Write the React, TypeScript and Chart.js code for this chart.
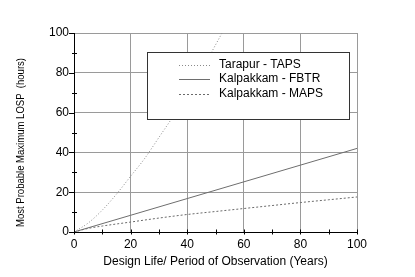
import { useEffect, useRef } from 'react';
import { Chart, registerables } from 'chart.js';

Chart.register(...registerables);

const FONT = '"Liberation Sans", Arial, Helvetica, sans-serif';

// Data
const tapsX = [0, 5, 10, 15, 20, 25, 30, 35, 40, 45, 50, 55];
const tapsY = [0, 4.5, 11, 19, 28, 37, 47.5, 58, 69, 81, 94, 107];
const fbtrX = [0, 20, 40, 60, 80, 100];
const fbtrY = [0, 8.4, 16.8, 25.2, 33.6, 42];
const mapsX = [0, 5, 10, 20, 30, 40, 50, 60, 70, 80, 90, 100];
const mapsY = [0, 1.8, 3.0, 5.0, 7.0, 8.8, 10.3, 11.8, 13.3, 14.8, 16.2, 17.6];

const seriesNames = ['Tarapur - TAPS', 'Kalpakkam - FBTR', 'Kalpakkam - MAPS'];
const xTitle = 'Design Life/ Period of Observation (Years)';
const yTitle = 'Most Probable Maximum LOSP  (hours)';

const toPts = (xs: number[], ys: number[]) => xs.map((x, i) => ({ x, y: ys[i] }));

const overlayPlugin = {
  id: 'customLegendAndTitles',
  afterDraw(chart: any) {
    const ctx = chart.ctx as CanvasRenderingContext2D;
    const ca = chart.chartArea;
    const xs = chart.scales.x;
    const ys = chart.scales.y;
    ctx.save();
    // Tick marks (crossing style)
    ctx.strokeStyle = '#000000';
    ctx.lineWidth = 1;
    ctx.setLineDash([]);
    xs.ticks.forEach((t: any) => {
      const px = Math.round(xs.getPixelForValue(t.value)) + 0.5;
      ctx.beginPath();
      ctx.moveTo(px, ca.bottom - 2.5);
      ctx.lineTo(px, ca.bottom + 2.5);
      ctx.stroke();
    });
    ys.ticks.forEach((t: any) => {
      const py = Math.round(ys.getPixelForValue(t.value)) + 0.5;
      const major = t.value % 20 === 0;
      ctx.beginPath();
      if (major) {
        ctx.moveTo(ca.left - 5, py);
        ctx.lineTo(ca.left, py);
      } else {
        ctx.moveTo(ca.left - 2, py);
        ctx.lineTo(ca.left + 3, py);
      }
      ctx.stroke();
    });
    // Legend box
    const bx = 147, by = 52, bw = 202, bh = 67;
    ctx.fillStyle = '#ffffff';
    ctx.fillRect(bx, by, bw, bh);
    ctx.strokeStyle = '#333333';
    ctx.lineWidth = 1;
    ctx.strokeRect(bx + 0.5, by + 0.5, bw, bh);
    const rows = [64.5, 79, 93.5];
    chart.data.datasets.forEach((ds: any, i: number) => {
      const y = Math.round(rows[i]) + 0.5;
      ctx.beginPath();
      ctx.strokeStyle = ds.borderColor;
      ctx.lineWidth = ds.borderWidth;
      ctx.setLineDash(ds.borderDash || []);
      ctx.moveTo(179, y);
      ctx.lineTo(210, y);
      ctx.stroke();
      ctx.setLineDash([]);
      ctx.fillStyle = '#000000';
      ctx.font = `12px ${FONT}`;
      ctx.textAlign = 'left';
      ctx.textBaseline = 'middle';
      ctx.fillText(ds.label, 219, rows[i]);
    });
    // Axis titles
    ctx.fillStyle = '#000000';
    ctx.font = `12px ${FONT}`;
    ctx.textAlign = 'center';
    ctx.textBaseline = 'middle';
    ctx.fillText(xTitle, (ca.left + ca.right) / 2, 262);
    ctx.font = `11.5px ${FONT}`;
    const w = ctx.measureText(yTitle).width;
    ctx.translate(21, 142.5);
    ctx.rotate(-Math.PI / 2);
    ctx.scale(169 / w, 1);
    ctx.fillText(yTitle, 0, 0);
    ctx.restore();
  },
};

export default function App() {
  const ref = useRef<HTMLCanvasElement | null>(null);
  useEffect(() => {
    if (!ref.current) return;
    const chart = new Chart(ref.current, {
      type: 'line',
      data: {
        datasets: [
          {
            label: seriesNames[0],
            data: toPts(tapsX, tapsY),
            borderColor: '#8a8a8a',
            borderWidth: 1,
            borderDash: [1, 2],
            pointRadius: 0,
            cubicInterpolationMode: 'monotone',
            fill: false,
          },
          {
            label: seriesNames[1],
            data: toPts(fbtrX, fbtrY),
            borderColor: '#6e6e6e',
            borderWidth: 1,
            borderDash: [],
            pointRadius: 0,
            fill: false,
          },
          {
            label: seriesNames[2],
            data: toPts(mapsX, mapsY),
            borderColor: '#6a6a6a',
            borderWidth: 1,
            borderDash: [2, 2],
            pointRadius: 0,
            cubicInterpolationMode: 'monotone',
            fill: false,
          },
        ],
      },
      options: {
        responsive: false,
        animation: false,
        devicePixelRatio: 1,
        layout: { padding: { left: 0, right: 58, top: 33, bottom: 0 } },
        plugins: { legend: { display: false }, tooltip: { enabled: false } },
        scales: {
          x: {
            type: 'linear',
            min: 0,
            max: 100,
            afterFit: (s: any) => { s.height = 45; },
            border: { color: '#000000', width: 1 },
            grid: {
              color: (c: any) => (c.tick && c.tick.value % 20 === 0 ? '#9a9a9a' : 'rgba(0,0,0,0)'),
              drawTicks: false,
              lineWidth: 1,
            },
            ticks: {
              stepSize: 10,
              autoSkip: false,
              maxRotation: 0,
              padding: 5,
              color: '#000000',
              font: { family: FONT, size: 12 },
              callback: (v: any) => (Number(v) % 20 === 0 ? String(v) : ''),
            },
          },
          y: {
            type: 'linear',
            min: 0,
            max: 100,
            afterFit: (s: any) => { s.width = 74; },
            border: { color: '#000000', width: 1 },
            grid: {
              color: (c: any) => (c.tick && c.tick.value % 20 === 0 ? '#9a9a9a' : 'rgba(0,0,0,0)'),
              drawTicks: false,
              lineWidth: 1,
            },
            ticks: {
              stepSize: 10,
              autoSkip: false,
              padding: 5,
              color: '#000000',
              font: { family: FONT, size: 12 },
              callback: (v: any) => (Number(v) % 20 === 0 ? String(v) : ''),
            },
          },
        },
      },
      plugins: [overlayPlugin],
    } as any);
    return () => chart.destroy();
  }, []);
  return (
    <div style={{ position: 'absolute', left: 0, top: 0, width: 415, height: 277, background: '#fff' }}>
      <canvas ref={ref} width={415} height={277} style={{ display: 'block', width: 415, height: 277 }} />
    </div>
  );
}
